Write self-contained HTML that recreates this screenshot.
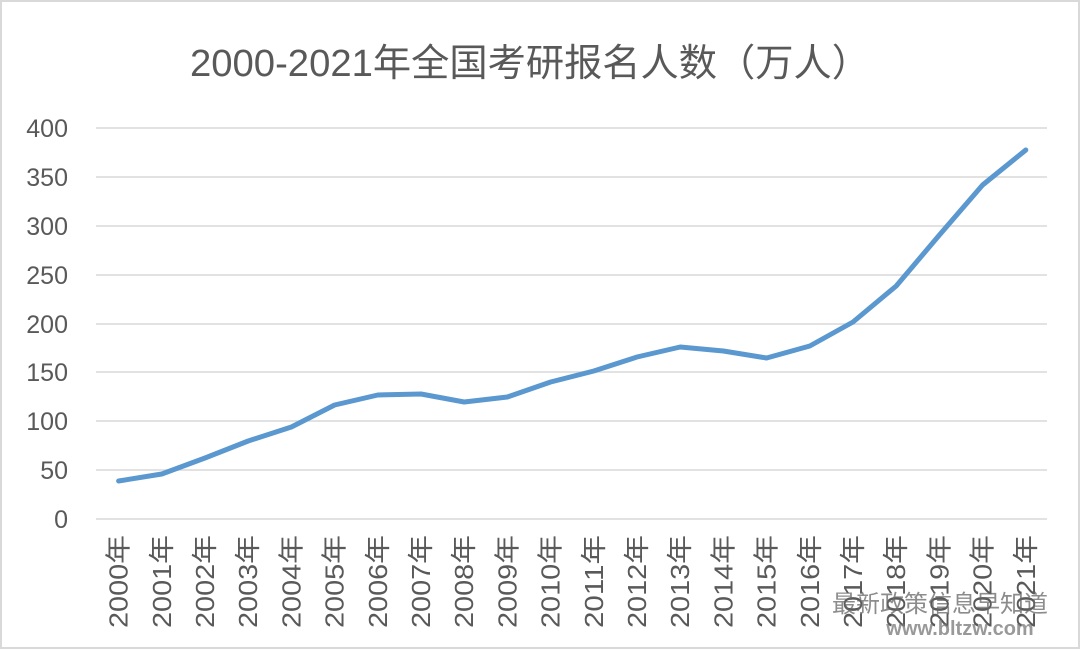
<!DOCTYPE html>
<html><head><meta charset="utf-8"><style>
html,body{margin:0;padding:0;background:#fff}
svg{display:block}
text{font-family:"Liberation Sans","Noto Sans CJK SC",sans-serif}
</style></head><body>
<svg width="1080" height="649" viewBox="0 0 1080 649">
<rect x="1" y="1" width="1078" height="647" fill="#fff" stroke="#d9d9d9" stroke-width="2"/>
<text x="190" y="76" font-size="38" fill="#595959" textLength="680" lengthAdjust="spacingAndGlyphs">2000-2021年全国考研报名人数（万人）</text>
<g stroke="#d9d9d9" stroke-width="1.5">
<line x1="96" x2="1047" y1="128" y2="128"/>
<line x1="96" x2="1047" y1="177" y2="177"/>
<line x1="96" x2="1047" y1="226" y2="226"/>
<line x1="96" x2="1047" y1="275" y2="275"/>
<line x1="96" x2="1047" y1="324" y2="324"/>
<line x1="96" x2="1047" y1="372" y2="372"/>
<line x1="96" x2="1047" y1="421" y2="421"/>
<line x1="96" x2="1047" y1="470" y2="470"/>
<line x1="96" x2="1047" y1="519" y2="519"/>
</g>
<g font-size="25" fill="#595959" text-anchor="end">
<text x="68" y="137">400</text><text x="68" y="186">350</text><text x="68" y="235">300</text>
<text x="68" y="284">250</text><text x="68" y="333">200</text><text x="68" y="381">150</text>
<text x="68" y="430">100</text><text x="68" y="479">50</text><text x="68" y="528">0</text>
</g>
<g font-size="26" fill="#595959" id="xl"></g>
<polyline fill="none" stroke="#5a98cf" stroke-width="5" stroke-linejoin="round" stroke-linecap="round" points="
118.6,481 161.8,474 205,458 248.2,441 291.4,427 334.6,405 377.8,395 421,394 464.2,402 507.4,397 550.6,382 593.8,371 637,357 680.2,347 723.4,351 766.6,358 809.8,346 853,322 896.2,286 939.4,235 982.6,185 1025.8,150"/>
<g opacity="0.75">
<text x="832" y="612" font-size="24" fill="#666">最新政策信息早知道</text>
<text x="960" y="635" font-size="20" fill="#777" text-anchor="middle" font-family="Liberation Serif,serif" font-weight="bold">www.bltzw.com</text>
</g>
</svg>
<script>
var g=document.getElementById('xl'),s='';
for(var i=0;i<22;i++){var x=118.6+43.2*i+9;var y=(2000+i)+'年';
s+='<text transform="translate('+x.toFixed(1)+',628) rotate(-90)" textLength="93" lengthAdjust="spacingAndGlyphs">'+y+'</text>';}
g.innerHTML=s;
</script>
</body></html>
